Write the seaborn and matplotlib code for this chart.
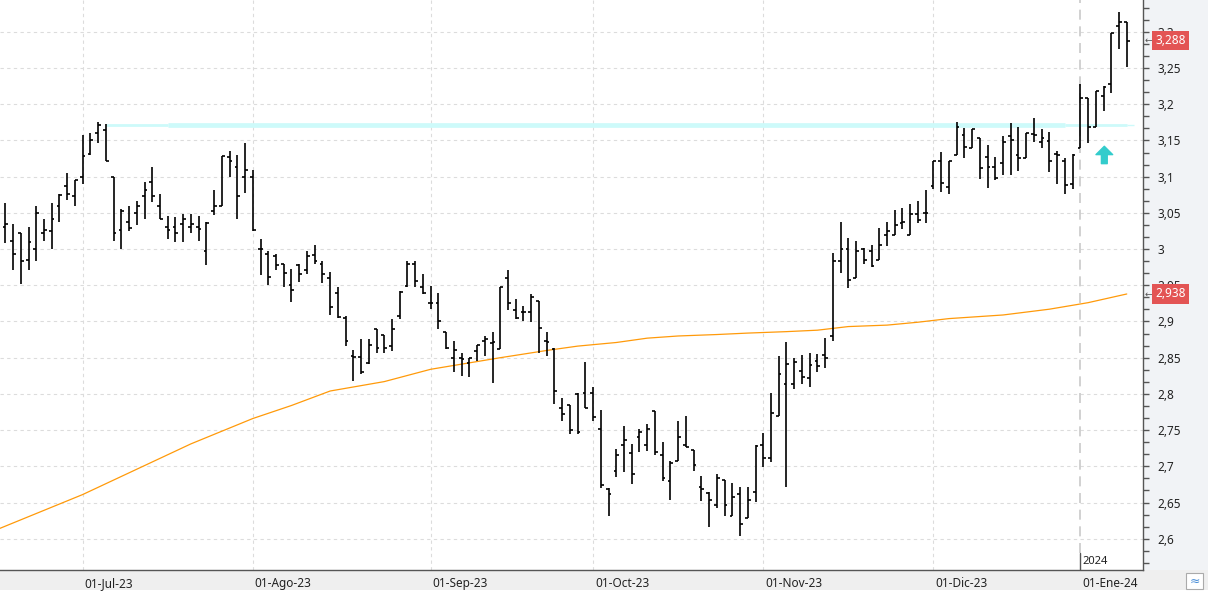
import numpy as np
import pandas as pd
import seaborn as sns
import matplotlib
matplotlib.use("Agg")
import matplotlib.pyplot as plt
from matplotlib.transforms import ScaledTranslation, blended_transform_factory
from matplotlib.ticker import FixedLocator, FuncFormatter
from matplotlib.patches import Rectangle

# ---------------- data (daily OHLC, mid-Jun 2023 .. 10-Jan 2024) ----------------
open_ = [3.030, 3.011, 3.022, 2.985, 3.000, 3.022, 3.025, 3.059, 3.087, 3.074,
         3.100, 3.132, 3.161, 3.164, 3.100, 3.027, 3.037, 3.050, 3.073, 3.092,
         3.060, 3.030, 3.030, 3.034, 3.030, 3.030, 2.997, 3.052, 3.059, 3.127,
         3.114, 3.100, 3.099, 3.000, 2.993, 2.990, 2.979, 2.950, 2.978, 2.971,
         2.992, 2.980, 2.960, 2.940, 2.905, 2.853, 2.851, 2.843, 2.890, 2.882,
         2.866, 2.907, 2.949, 2.980, 2.948, 2.926, 2.926, 2.885, 2.850, 2.849,
         2.842, 2.859, 2.873, 2.870, 2.862, 2.960, 2.916, 2.913, 2.913, 2.928,
         2.873, 2.862, 2.780, 2.784, 2.800, 2.801, 2.801, 2.752, 2.668, 2.693,
         2.729, 2.719, 2.740, 2.730, 2.776, 2.716, 2.680, 2.707, 2.729, 2.722,
         2.672, 2.663, 2.646, 2.681, 2.631, 2.662, 2.628, 2.664, 2.730, 2.712,
         2.770, 2.814, 2.814, 2.832, 2.822, 2.846, 2.854, 2.880, 2.983, 3.000,
         2.960, 3.000, 2.998, 2.985, 3.020, 3.020, 3.036, 3.020, 3.048, 3.050,
         3.087, 3.122, 3.086, 3.130, 3.157, 3.139, 3.153, 3.127, 3.113, 3.119,
         3.156, 3.130, 3.126, 3.159, 3.148, 3.149, 3.131, 3.122, 3.090, 3.140,
         3.209, 3.168, 3.212, 3.228, 3.308, 3.313]
high = [3.063, 3.034, 3.022, 3.030, 3.060, 3.041, 3.064, 3.076, 3.105, 3.096,
        3.158, 3.160, 3.176, 3.173, 3.100, 3.055, 3.059, 3.066, 3.092, 3.113,
        3.076, 3.046, 3.044, 3.048, 3.048, 3.046, 3.037, 3.082, 3.128, 3.135,
        3.130, 3.146, 3.109, 3.014, 2.998, 2.993, 2.979, 2.972, 2.980, 2.997,
        3.005, 2.983, 2.969, 2.948, 2.908, 2.860, 2.876, 2.876, 2.890, 2.882,
        2.903, 2.942, 2.983, 2.983, 2.965, 2.949, 2.940, 2.885, 2.873, 2.857,
        2.849, 2.867, 2.880, 2.885, 2.947, 2.971, 2.931, 2.922, 2.938, 2.928,
        2.885, 2.863, 2.795, 2.784, 2.801, 2.844, 2.810, 2.778, 2.670, 2.724,
        2.756, 2.731, 2.752, 2.758, 2.776, 2.733, 2.708, 2.762, 2.769, 2.722,
        2.686, 2.664, 2.689, 2.681, 2.677, 2.672, 2.671, 2.729, 2.746, 2.801,
        2.852, 2.871, 2.850, 2.854, 2.856, 2.855, 2.877, 2.994, 3.037, 3.015,
        3.011, 3.002, 3.006, 3.029, 3.037, 3.054, 3.057, 3.062, 3.066, 3.082,
        3.122, 3.134, 3.122, 3.175, 3.167, 3.166, 3.153, 3.144, 3.127, 3.156,
        3.174, 3.168, 3.160, 3.181, 3.166, 3.162, 3.135, 3.126, 3.131, 3.228,
        3.209, 3.219, 3.225, 3.299, 3.327, 3.313]
low = [3.009, 2.971, 2.952, 2.971, 2.983, 3.011, 3.000, 3.037, 3.068, 3.059,
       3.090, 3.130, 3.146, 3.122, 3.011, 3.000, 3.025, 3.033, 3.041, 3.065,
       3.041, 3.014, 3.010, 3.010, 3.022, 3.011, 2.978, 3.047, 3.059, 3.100,
       3.041, 3.078, 3.025, 2.964, 2.951, 2.971, 2.947, 2.927, 2.955, 2.966,
       2.979, 2.953, 2.909, 2.905, 2.866, 2.818, 2.827, 2.841, 2.857, 2.857,
       2.859, 2.903, 2.948, 2.947, 2.938, 2.917, 2.889, 2.862, 2.830, 2.825,
       2.823, 2.845, 2.852, 2.815, 2.862, 2.916, 2.903, 2.900, 2.899, 2.856,
       2.852, 2.786, 2.763, 2.744, 2.744, 2.780, 2.763, 2.670, 2.631, 2.685,
       2.692, 2.675, 2.720, 2.721, 2.716, 2.680, 2.653, 2.707, 2.726, 2.693,
       2.652, 2.616, 2.643, 2.631, 2.631, 2.604, 2.628, 2.651, 2.699, 2.706,
       2.770, 2.671, 2.807, 2.814, 2.809, 2.830, 2.836, 2.873, 2.967, 2.946,
       2.960, 2.980, 2.975, 2.985, 3.004, 3.020, 3.028, 3.020, 3.036, 3.036,
       3.083, 3.079, 3.076, 3.130, 3.126, 3.139, 3.097, 3.085, 3.096, 3.103,
       3.103, 3.108, 3.126, 3.148, 3.140, 3.107, 3.090, 3.076, 3.083, 3.140,
       3.147, 3.168, 3.191, 3.216, 3.277, 3.252]
close = [3.035, 2.993, 2.983, 3.010, 3.050, 3.027, 3.041, 3.075, 3.076, 3.096,
         3.128, 3.151, 3.172, 3.122, 3.022, 3.052, 3.029, 3.060, 3.082, 3.073,
         3.041, 3.026, 3.022, 3.041, 3.034, 3.028, 3.036, 3.059, 3.128, 3.121,
         3.074, 3.109, 3.026, 3.000, 2.962, 2.978, 2.967, 2.943, 2.965, 2.990,
         2.984, 2.966, 2.920, 2.906, 2.873, 2.851, 2.830, 2.868, 2.863, 2.864,
         2.889, 2.941, 2.980, 2.956, 2.939, 2.926, 2.900, 2.864, 2.860, 2.848,
         2.849, 2.867, 2.876, 2.871, 2.947, 2.926, 2.905, 2.913, 2.934, 2.891,
         2.872, 2.804, 2.772, 2.750, 2.747, 2.780, 2.768, 2.674, 2.662, 2.716,
         2.737, 2.690, 2.748, 2.752, 2.720, 2.684, 2.704, 2.740, 2.727, 2.702,
         2.668, 2.653, 2.684, 2.646, 2.658, 2.621, 2.653, 2.728, 2.712, 2.773,
         2.827, 2.841, 2.844, 2.824, 2.840, 2.838, 2.850, 2.983, 3.000, 2.957,
         2.998, 2.985, 2.976, 3.006, 3.025, 3.033, 3.038, 3.048, 3.040, 3.050,
         3.122, 3.091, 3.122, 3.168, 3.141, 3.166, 3.112, 3.114, 3.098, 3.148,
         3.150, 3.126, 3.160, 3.157, 3.153, 3.122, 3.130, 3.088, 3.130, 3.209,
         3.168, 3.219, 3.224, 3.299, 3.313, 3.288]

# 200-session moving average, read at a number of sessions
ma_idx = [-1, 10, 19, 24, 32, 37, 42, 49, 55, 64, 70, 74, 79, 83, 87, 92, 96,
          101, 105, 109, 114, 118, 122, 129, 135, 140, 145]
ma_val = [2.613, 2.661, 2.706, 2.731, 2.766, 2.784, 2.804, 2.817, 2.834, 2.850,
          2.860, 2.866, 2.871, 2.877, 2.880, 2.882, 2.884, 2.886, 2.888, 2.893,
          2.895, 2.899, 2.904, 2.909, 2.917, 2.926, 2.938]

month_idx = [10, 32, 55, 76, 98, 120, 139]
month_labels = ["01-Jul-23", "01-Ago-23", "01-Sep-23", "01-Oct-23",
                "01-Nov-23", "01-Dic-23", "01-Ene-24"]
year_idx = 139
year_label = "2024"

resistance = 3.172
band_thin_start, band_thick_start, band_thick_end, band_end = 13.0, 21.0, 137.0, 146.0
signal_idx, signal_low, signal_high = 142.1, 3.118, 3.142
last_close = 3.288
last_ma = 2.938

# ---------------- figure ----------------
sns.set_style("white")
plt.rcParams["font.family"] = ["Noto Sans", "DejaVu Sans"]

W, H = 1208, 592
fig = plt.figure(figsize=(W / 100, H / 100), dpi=100, facecolor="#f1f3f6")
fig.patches.append(Rectangle((0, 2 / H), 1, 19.7 / H, transform=fig.transFigure,
                             facecolor="#efefef", edgecolor="none", zorder=-10))
fig.patches.append(Rectangle((0, 0), 1, 2 / H, transform=fig.transFigure,
                             facecolor="#ffffff", edgecolor="none", zorder=-10))

ax = fig.add_axes([0, 21.7 / H, 1143.3 / W, 570.3 / H])
ax.set_facecolor("white")

df = pd.DataFrame({"o": open_, "h": high, "l": low, "c": close})
df["x"] = np.arange(len(df))
ma = pd.DataFrame({"x": ma_idx, "ma": ma_val})

# grid
for v in np.arange(2.55, 3.36, 0.05):
    ax.axhline(v, color="#dcdcdc", lw=0.8, dashes=(3, 3), zorder=0)
for m in month_idx[:-1]:
    ax.axvline(m, color="#dcdcdc", lw=0.8, dashes=(3, 3), zorder=0)

# year separator
ax.axvline(year_idx, ymin=0.031, ymax=1, color="#c9c9c9", lw=1.2, dashes=(6, 4), zorder=0.5)
ax.axvline(year_idx, ymin=0, ymax=0.031, color="#555555", lw=1.0, zorder=0.5)
ax.text(year_idx, 0.016, year_label, transform=blended_transform_factory(ax.transData, ax.transAxes)
        + ScaledTranslation(2 / 100, 0, fig.dpi_scale_trans),
        ha="left", va="center", fontsize=8, color="#222222")

# resistance band
ax.hlines(resistance, band_thin_start, band_thick_start, color="#cdfafa", lw=2.0, zorder=1)
ax.hlines(resistance, band_thick_start, band_thick_end, color="#cdfafa", lw=3.4, zorder=1)
ax.hlines(resistance, band_thick_end, band_end - 1, color="#cdfafa", lw=2.0, zorder=1)
ax.hlines(resistance, band_end - 1, band_end, color="#cdfafa", lw=1.0, zorder=1)

# moving average
sns.lineplot(data=ma, x="x", y="ma", ax=ax, color="#ff9a0a", lw=0.9, zorder=2, legend=False)

# OHLC bars
tick = 0.36
ax.vlines(df["x"], df["l"], df["h"], color="black", lw=1.2, zorder=3)
ax.hlines(df["o"], df["x"] - tick, df["x"], color="black", lw=1.2, zorder=3)
ax.hlines(df["c"], df["x"], df["x"] + tick, color="black", lw=1.2, zorder=3)

# signal arrow
ax.annotate("", xy=(signal_idx, signal_high), xytext=(signal_idx, signal_low),
            arrowprops=dict(arrowstyle="simple,head_length=0.6,head_width=1.2,tail_width=0.42",
                            color="#33cccc", shrinkA=0, shrinkB=0), zorder=4)

# axes limits
ax.set_xlim(-0.685, 147.14)
ax.set_ylim(2.5564, 3.344)
ax.set_xlabel("")
ax.set_ylabel("")

# spines
for s in ["left", "top"]:
    ax.spines[s].set_visible(False)
for s in ["right", "bottom"]:
    ax.spines[s].set_color("#555555")
    ax.spines[s].set_linewidth(1.0)

# y axis on the right
ax.yaxis.tick_right()
major = np.round(np.arange(2.55, 3.36, 0.05), 2)
minor = [m + k * 0.05 / 3 for m in major for k in (1, 2)]
ax.yaxis.set_major_locator(FixedLocator(major))
ax.yaxis.set_minor_locator(FixedLocator(minor))
ax.yaxis.set_major_formatter(FuncFormatter(lambda v, p: ("%g" % round(v, 2)).replace(".", ",")))
ax.tick_params(axis="y", which="both", direction="out", length=4, width=1,
               color="#555555", right=True, left=False, labelright=True, labelleft=False)
ax.tick_params(axis="y", which="major", pad=6, labelsize=8.5, labelcolor="#222222")

# x axis
ax.set_xticks(month_idx)
ax.set_xticklabels(month_labels)
ax.tick_params(axis="x", direction="out", length=6, width=1, color="#555555",
               pad=-1, labelsize=8.5, labelcolor="#222222")
for lbl in ax.get_xticklabels():
    lbl.set_ha("left")
    lbl.set_transform(lbl.get_transform() + ScaledTranslation(2 / 100, 0, fig.dpi_scale_trans))

# last value labels
bt = blended_transform_factory(ax.transAxes, ax.transData)
for val, txt in [(last_close, "3,288"), (last_ma, "2,938")]:
    ax.text(1.0105, val, txt, transform=bt, ha="left", va="center", fontsize=8.5,
            color="white", zorder=6,
            bbox=dict(boxstyle="square,pad=0.28", fc="#e35454", ec="none"))
    ax.text(1.0015, val, "\u2190", transform=bt, ha="left", va="center", fontsize=6.5,
            color="#555555", zorder=6)

# little icon bottom right
fig.patches.append(Rectangle((1186 / W, 3 / H), 17 / W, 16 / H, transform=fig.transFigure,
                             facecolor="white", edgecolor="#aaaaaa", lw=0.8, zorder=5))
fig.text(1194.5 / W, 11 / H, "\u2248", ha="center", va="center", fontsize=9,
         color="#4a8fd8", zorder=6)

fig.savefig("out.png", dpi=100, facecolor=fig.get_facecolor())
